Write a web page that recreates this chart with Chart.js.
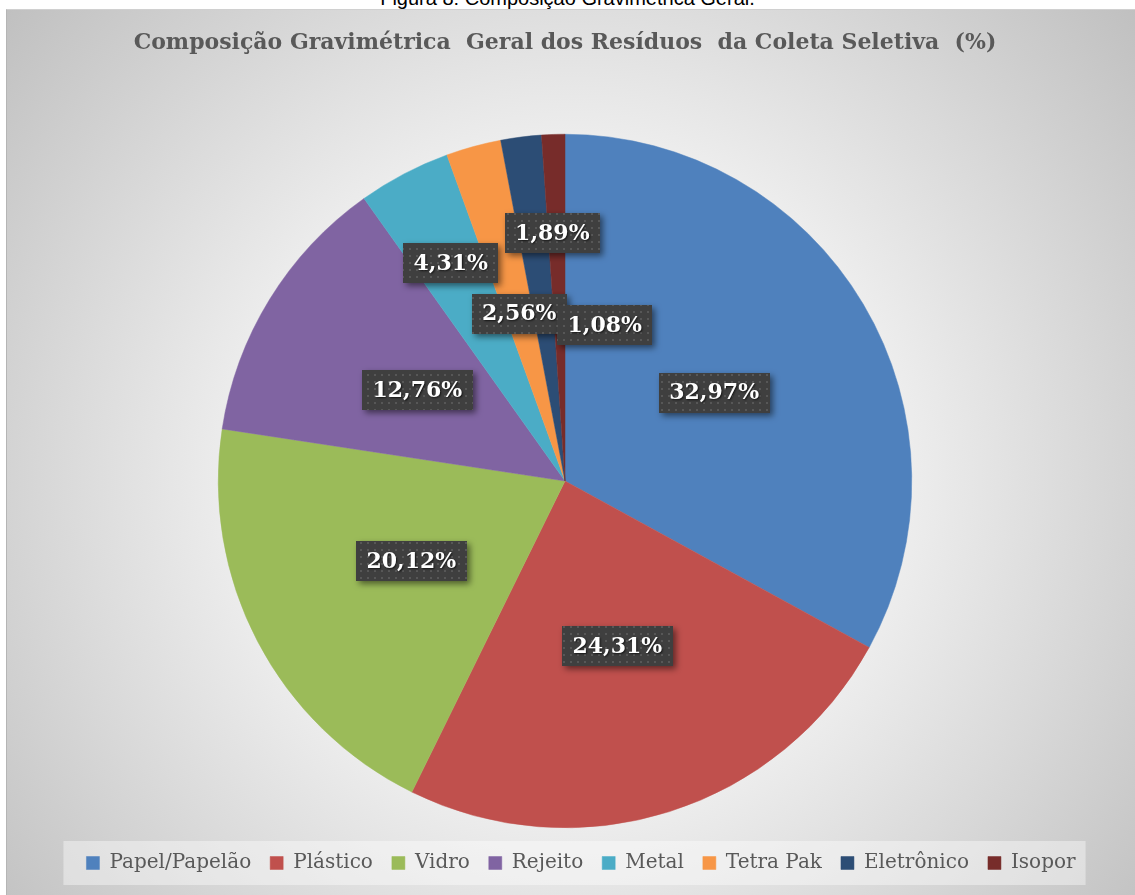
<!DOCTYPE html>
<html>
<head>
<meta charset="utf-8">
<script src="https://cdn.jsdelivr.net/npm/chart.js@4.4.1/dist/chart.umd.min.js"></script>
<style>
html, body { margin: 0; padding: 0; background: #fff; width: 1135px; height: 895px; overflow: hidden; position: relative; }
#caption { position: absolute; left: 0; top: -12px; width: 1135px; text-align: center; font: 20px "Liberation Sans", sans-serif; line-height: 20px; color: #000; }
#frame { position: absolute; left: 6px; top: 9px; width: 1129px; height: 886px; box-sizing: border-box;
  border-left: 1px solid #b5b5b5; border-top: 1px solid #d0d0d0;
  background: radial-gradient(circle farthest-corner at 50% 53%, #ffffff 0%, #eeeeee 45%, #c0c0c0 100%); }
canvas { position: absolute; left: 0; top: 0; }
</style>
</head>
<body>
<div id="caption">Figura 8: Composição Gravimétrica Geral.</div>
<div id="frame"></div>
<canvas id="myChart" width="1135" height="895"></canvas>
<script>
// data
var categories = ['Papel/Papelão', 'Plástico', 'Vidro', 'Rejeito', 'Metal', 'Tetra Pak', 'Eletrônico', 'Isopor']
var percentages = [32.97, 24.31, 20.12, 12.76, 4.31, 2.56, 1.89, 1.08]
var chartTitle = 'Composição Gravimétrica  Geral dos Resíduos  da Coleta Seletiva  (%)'

var sliceColors = ['#4f81bd', '#c0504d', '#9bbb59', '#8064a2', '#4bacc6', '#f79646', '#2c4d75', '#772c2a']

// where each label box sits: fraction of radius along the slice middle + sideways nudge (px)
var labelPlace = [
    {f: 0.5, dx: 0},
    {f: 0.5, dx: 0},
    {f: 0.5, dx: 0},
    {f: 0.5, dx: 0},
    {f: 0.71, dx: 0},
    {f: 0.5, dx: 0},
    {f: 0.72, dx: 19},
    {f: 0.45, dx: 45}
]

// little dotted fill used behind the labels
function makeDots(){
    let c = document.createElement('canvas')
    c.width = 7
    c.height = 7
    let g = c.getContext('2d')
    g.fillStyle = '#3f3f3f'
    g.fillRect(0, 0, 7, 7)
    g.fillStyle = '#575757'
    g.fillRect(3, 3, 2, 2)
    return c
}

var dataLabels = {
    id: 'dataLabels',
    afterDatasetsDraw(chart){
        let ctx = chart.ctx
        let dots = ctx.createPattern(makeDots(), 'repeat')
        let meta = chart.getDatasetMeta(0)
        ctx.save()
        ctx.font = 'bold 22px "DejaVu Serif"'
        ctx.textAlign = 'center'
        ctx.textBaseline = 'middle'
        meta.data.forEach((arc, i) => {
            let p = arc.getProps(['x', 'y', 'startAngle', 'endAngle', 'outerRadius'])
            let mid = (p.startAngle + p.endAngle) / 2
            let x = p.x + Math.cos(mid) * p.outerRadius * labelPlace[i].f + labelPlace[i].dx
            let y = p.y + Math.sin(mid) * p.outerRadius * labelPlace[i].f
            let txt = percentages[i].toFixed(2).replace('.', ',') + '%'
            let w = Math.round(ctx.measureText(txt).width + 21)
            let h = 40
            ctx.shadowColor = 'rgba(0,0,0,0.5)'
            ctx.shadowBlur = 6
            ctx.shadowOffsetX = 3
            ctx.shadowOffsetY = 3
            ctx.fillStyle = dots
            ctx.fillRect(Math.round(x - w / 2), Math.round(y - h / 2), w, h)
            ctx.shadowColor = 'rgba(0,0,0,0.7)'
            ctx.shadowBlur = 2
            ctx.shadowOffsetX = 1
            ctx.shadowOffsetY = 1
            ctx.fillStyle = '#ffffff'
            ctx.fillText(txt, x, y + 1)
        })
        ctx.restore()
    }
}

// legend sits a bit right of the pie centre and a bit lower in the original
var legendShift = {
    id: 'legendShift',
    afterLayout(chart){
        chart.legend.left += 16
        chart.legend.right += 16
        chart.legend.top += 6
        chart.legend.bottom += 6
    }
}

// pale band behind the legend
var legendBand = {
    id: 'legendBand',
    beforeDraw(chart){
        let hb = chart.legend.legendHitBoxes
        if (!hb || !hb.length) return
        let last = hb[hb.length - 1]
        let yc = hb[0].top + hb[0].height / 2
        let ctx = chart.ctx
        ctx.save()
        ctx.fillStyle = 'rgba(255,255,255,0.4)'
        ctx.fillRect(hb[0].left - 23, yc - 22, last.left + last.width + 10 - (hb[0].left - 23), 44)
        ctx.restore()
    }
}

var ctx = document.getElementById('myChart')
var myChart = new Chart(ctx, {
    type: 'pie',
    data: {
        labels: categories,
        datasets: [{
            data: percentages,
            backgroundColor: sliceColors,
            borderColor: sliceColors,
            borderWidth: 0.5
        }]
    },
    plugins: [legendShift, legendBand, dataLabels],
    options: {
        responsive: false,
        animation: false,
        events: [],
        layout: {
            padding: {left: 0, right: 5, top: 0, bottom: 18}
        },
        plugins: {
            title: {
                display: true,
                text: chartTitle,
                color: '#595959',
                font: {family: 'DejaVu Serif', size: 22, weight: 'bold'},
                padding: {top: 30, bottom: 77.6}
            },
            legend: {
                position: 'bottom',
                labels: {
                    boxWidth: 13,
                    boxHeight: 13,
                    padding: 19,
                    color: '#595959',
                    font: {family: 'DejaVu Serif', size: 20}
                }
            },
            tooltip: {enabled: false}
        }
    }
})
</script>
</body>
</html>
